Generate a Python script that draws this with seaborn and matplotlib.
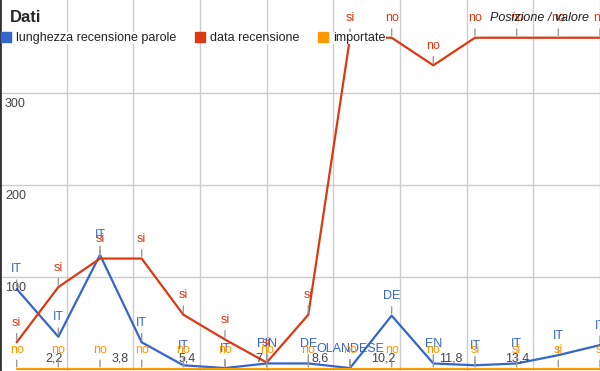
import pandas as pd
import seaborn as sns
import matplotlib.pyplot as plt
from matplotlib.lines import Line2D

# posizioni e valori
posizione = list(range(1, 16))
lunghezza = [87, 35, 124, 29, 4, 1, 6, 6, 1, 58, 6, 4, 6, 15, 26]
data_rec = [29, 89, 120, 120, 59, 32, 7, 59, 360, 360, 330, 360, 360, 360, 360]
importate = [0] * 15

lingua = ['IT', 'IT', 'IT', 'IT', 'IT', 'IT', 'FIN', 'DE', 'OLANDESE', 'DE', 'EN', 'IT', 'IT', 'IT', 'IT']
note_data = ['si'] * 9 + ['no'] * 6
note_imp = ['no'] * 11 + ['si'] * 4

serie = ['lunghezza recensione parole', 'data recensione', 'importate']
colori = ['#3366cc', '#dc3912', '#ff9900']

x_ticks = [2.2, 3.8, 5.4, 7, 8.6, 10.2, 11.8, 13.4]
x_labels = ['2,2', '3,8', '5,4', '7', '8,6', '10,2', '11,8', '13,4']
y_ticks = [100, 200, 300]

sns.set_style('white')
plt.rcParams['font.family'] = ['Liberation Sans', 'DejaVu Sans']

df = pd.DataFrame({
    'pos': posizione * 3,
    'valore': lunghezza + data_rec + importate,
    'serie': [s for s in serie for _ in posizione],
})

fig = plt.figure(figsize=(6, 3.71), dpi=100)
ax = fig.add_axes([0, 0, 1, 1])

sns.lineplot(data=df, x='pos', y='valore', hue='serie', palette=colori,
             linewidth=1.6, legend=False, ax=ax)

ax.set_xlim(0.6, 15)
ax.set_ylim(-2.2, 401)
ax.set_xticks(x_ticks + [15])
ax.set_yticks(y_ticks)
ax.grid(True, color='#cccccc', linewidth=1)
ax.set_axisbelow(True)
ax.tick_params(length=0, labelbottom=False, labelleft=False)
ax.set_xlabel('')
ax.set_ylabel('')
for side in ['top', 'right', 'bottom']:
    ax.spines[side].set_visible(False)
ax.spines['left'].set_color('#333333')
ax.spines['left'].set_linewidth(2)

# etichette assi dentro il grafico
for t, lab in zip(x_ticks, x_labels):
    ax.annotate(lab, xy=(t, 0), xytext=(-3, 7.5), textcoords='offset points',
                ha='right', va='center', color='#444444', fontsize=9)
for v in y_ticks:
    ax.annotate(str(v), xy=(0.6, v), xytext=(3.5, -3.5), textcoords='offset points',
                ha='left', va='top', color='#444444', fontsize=9)

# annotazioni sui punti
for vals, notes, c in [(lunghezza, lingua, colori[0]),
                       (data_rec, note_data, colori[1]),
                       (importate, note_imp, colori[2])]:
    for x, y, n in zip(posizione, vals, notes):
        ax.annotate(n, xy=(x, y), xytext=(0, 14), textcoords='offset points',
                    ha='center', va='center', color=c, fontsize=9,
                    arrowprops=dict(arrowstyle='-', color='#999999', lw=1,
                                    shrinkA=1, shrinkB=1.5))

fig.text(10 / 600, 1 - 18 / 371, 'Dati', fontsize=12, fontweight='bold',
         va='center', ha='left')
fig.text(490 / 600, 1 - 18 / 371, 'Posizione / valore', fontsize=9,
         style='italic', color='#222222', va='center', ha='left')

handles = [Line2D([], [], marker='s', linestyle='none', markersize=7,
                  markerfacecolor=c, markeredgecolor=c) for c in colori]
leg = ax.legend(handles, serie, loc='center left', ncol=3,
                bbox_to_anchor=(1 / 600, 1 - 38 / 371), frameon=False,
                borderpad=0, borderaxespad=0, handlelength=0.8,
                handletextpad=0.4, columnspacing=1.5, fontsize=9)
for t in leg.get_texts():
    t.set_color('#222222')
    t.set_bbox(dict(facecolor='white', edgecolor='none', pad=0))

fig.savefig('out.png', dpi=100)
